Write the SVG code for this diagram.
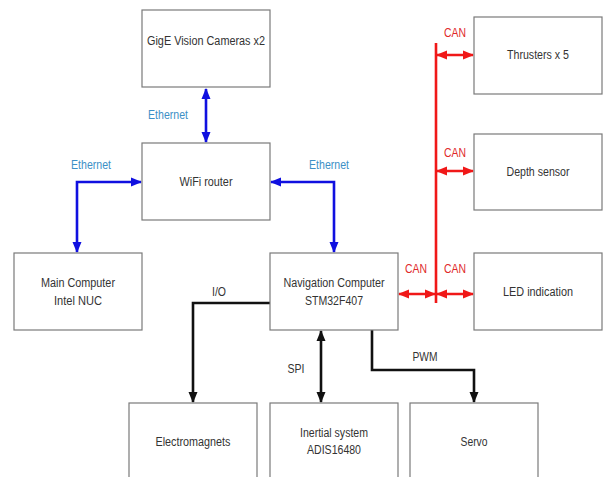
<svg xmlns="http://www.w3.org/2000/svg" width="603" height="477" viewBox="0 0 603 477">
<defs>
<style>
.box{fill:#fff;stroke:#7a7a7a;stroke-width:1.2}
text{font-family:"Liberation Sans",Arial,sans-serif;font-size:12px;text-anchor:middle}
.t{fill:#333}
.eth{fill:#3d8fc6}
.can{fill:#e02828}
.blue{fill:none;stroke:#1010e0;stroke-width:2.6}
.red{fill:none;stroke:#f01818;stroke-width:2.6}
.blk{fill:none;stroke:#111;stroke-width:2.6}
</style>
<marker id="ab" markerUnits="userSpaceOnUse" markerWidth="11" markerHeight="10" refX="10" refY="5" orient="auto-start-reverse"><path d="M0,0.5 L11,5 L0,9.5 z" fill="#1010e0"/></marker>
<marker id="ar" markerUnits="userSpaceOnUse" markerWidth="11" markerHeight="10" refX="10" refY="5" orient="auto-start-reverse"><path d="M0,0.5 L11,5 L0,9.5 z" fill="#f01818"/></marker>
<marker id="ak" markerUnits="userSpaceOnUse" markerWidth="11" markerHeight="10" refX="10" refY="5" orient="auto-start-reverse"><path d="M0,0.5 L11,5 L0,9.5 z" fill="#111"/></marker>
</defs>
<rect width="603" height="477" fill="#fff"/>
<g id="connectors">
<path class="blue" d="M206,89 L206,142" marker-start="url(#ab)" marker-end="url(#ab)"/>
<path class="blue" d="M77,252 L77,182 L141,182" marker-start="url(#ab)" marker-end="url(#ab)"/>
<path class="blue" d="M271,182 L334,182 L334,252" marker-start="url(#ab)" marker-end="url(#ab)"/>
<path class="red" d="M436,43 L436,303"/>
<path class="red" d="M437,55 L473,55" marker-start="url(#ar)" marker-end="url(#ar)"/>
<path class="red" d="M437,171 L473,171" marker-start="url(#ar)" marker-end="url(#ar)"/>
<path class="red" d="M437,294 L473,294" marker-start="url(#ar)" marker-end="url(#ar)"/>
<path class="red" d="M399,294 L435,294" marker-start="url(#ar)" marker-end="url(#ar)"/>
<path class="blk" d="M270,303 L193,303 L193,402" marker-end="url(#ak)"/>
<path class="blk" d="M321,331 L321,402" marker-start="url(#ak)" marker-end="url(#ak)"/>
<path class="blk" d="M372,330 L372,370 L474,370 L474,402" marker-end="url(#ak)"/>
<text class="eth" x="168" y="119" textLength="40" lengthAdjust="spacingAndGlyphs">Ethernet</text>
<text class="eth" x="91" y="169" textLength="40" lengthAdjust="spacingAndGlyphs">Ethernet</text>
<text class="eth" x="329" y="169" textLength="40" lengthAdjust="spacingAndGlyphs">Ethernet</text>
<text class="can" x="455" y="37" textLength="22" lengthAdjust="spacingAndGlyphs">CAN</text>
<text class="can" x="455" y="157" textLength="22" lengthAdjust="spacingAndGlyphs">CAN</text>
<text class="can" x="416" y="273" textLength="22" lengthAdjust="spacingAndGlyphs">CAN</text>
<text class="can" x="455" y="273" textLength="22" lengthAdjust="spacingAndGlyphs">CAN</text>
<text class="t" x="219" y="296" textLength="14" lengthAdjust="spacingAndGlyphs">I/O</text>
<text class="t" x="296" y="373" textLength="17" lengthAdjust="spacingAndGlyphs">SPI</text>
<text class="t" x="425" y="361" textLength="25" lengthAdjust="spacingAndGlyphs">PWM</text>
</g>
<g id="cameras"><rect class="box" x="142" y="10" width="128" height="77"/><text class="t" x="206" y="45" textLength="118" lengthAdjust="spacingAndGlyphs">GigE Vision Cameras x2</text></g>
<g id="router"><rect class="box" x="142" y="143" width="128" height="77"/><text class="t" x="206" y="186" textLength="53" lengthAdjust="spacingAndGlyphs">WiFi router</text></g>
<g id="main"><rect class="box" x="14" y="253" width="128" height="77"/><text class="t" x="78" y="287" textLength="74" lengthAdjust="spacingAndGlyphs">Main Computer</text><text class="t" x="78" y="305" textLength="48" lengthAdjust="spacingAndGlyphs">Intel NUC</text></g>
<g id="nav"><rect class="box" x="270" y="253" width="128" height="77"/><text class="t" x="334" y="287" textLength="101" lengthAdjust="spacingAndGlyphs">Navigation Computer</text><text class="t" x="334" y="305" textLength="58" lengthAdjust="spacingAndGlyphs">STM32F407</text></g>
<g id="thrusters"><rect class="box" x="474" y="17" width="128" height="77"/><text class="t" x="538" y="59" textLength="62" lengthAdjust="spacingAndGlyphs">Thrusters x 5</text></g>
<g id="depth"><rect class="box" x="474" y="134" width="128" height="76"/><text class="t" x="538" y="176" textLength="63" lengthAdjust="spacingAndGlyphs">Depth sensor</text></g>
<g id="led"><rect class="box" x="474" y="253" width="128" height="77"/><text class="t" x="538" y="296" textLength="70" lengthAdjust="spacingAndGlyphs">LED indication</text></g>
<g id="electromagnets"><rect class="box" x="129" y="403" width="128" height="80"/><text class="t" x="193" y="446" textLength="75" lengthAdjust="spacingAndGlyphs">Electromagnets</text></g>
<g id="inertial"><rect class="box" x="270" y="403" width="128" height="80"/><text class="t" x="334" y="437" textLength="68" lengthAdjust="spacingAndGlyphs">Inertial system</text><text class="t" x="334" y="454" textLength="54" lengthAdjust="spacingAndGlyphs">ADIS16480</text></g>
<g id="servo"><rect class="box" x="410" y="403" width="128" height="80"/><text class="t" x="474" y="446" textLength="27" lengthAdjust="spacingAndGlyphs">Servo</text></g>
</svg>
